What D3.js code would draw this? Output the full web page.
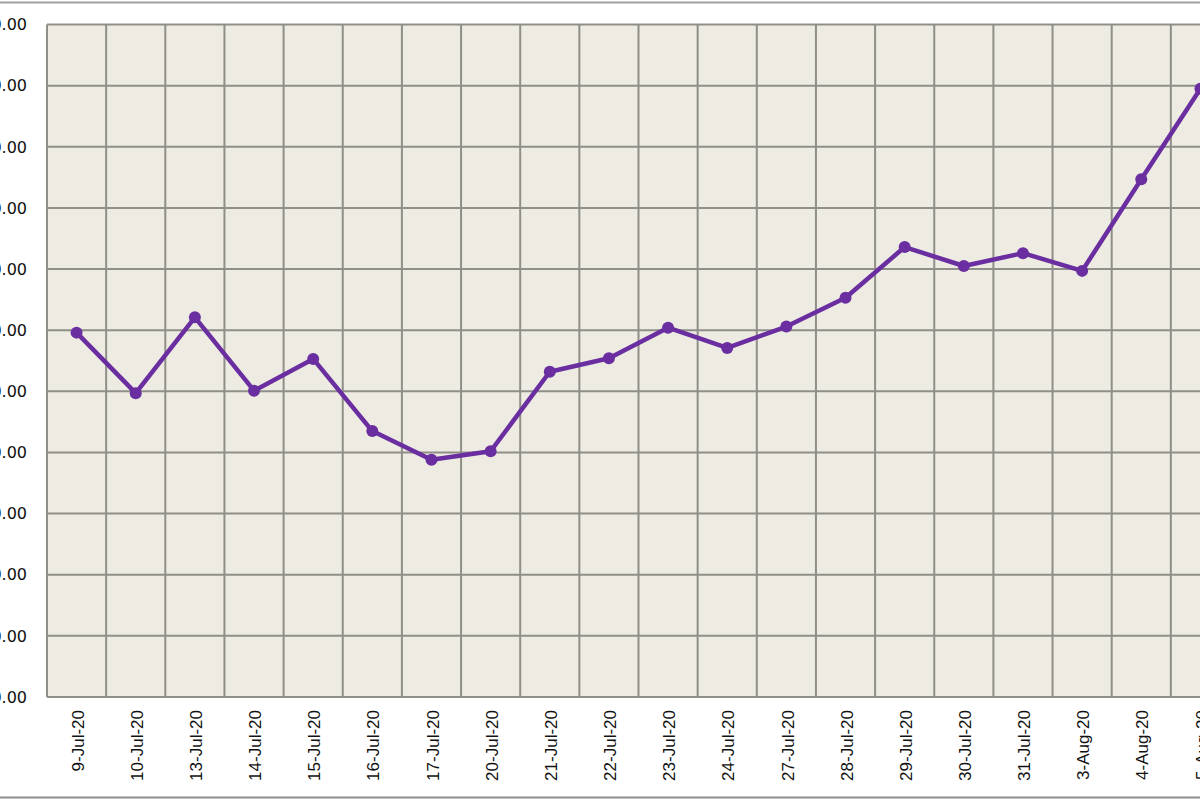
<!DOCTYPE html>
<html>
<head>
<meta charset="utf-8">
<script src="https://cdn.jsdelivr.net/npm/d3@7"></script>
<style>
  html, body { margin: 0; padding: 0; background: #fff; overflow: hidden; }
  svg { display: block; }
</style>
</head>
<body>
<svg id="chart"></svg>
<script>
const dates = ["9-Jul-20", "10-Jul-20", "13-Jul-20", "14-Jul-20", "15-Jul-20", "16-Jul-20",
               "17-Jul-20", "20-Jul-20", "21-Jul-20", "22-Jul-20", "23-Jul-20", "24-Jul-20",
               "27-Jul-20", "28-Jul-20", "29-Jul-20", "30-Jul-20", "31-Jul-20", "3-Aug-20",
               "4-Aug-20", "5-Aug-20"];
const values = [159.6, 149.7, 162.1, 150.1, 155.3, 143.5, 138.8, 140.2, 153.2, 155.4,
                160.4, 157.1, 160.6, 165.3, 173.6, 170.5, 172.6, 169.7, 184.7, 199.5];
const yTicks = [100, 110, 120, 130, 140, 150, 160, 170, 180, 190, 200, 210];

const W = 1200, H = 800;
// plot area runs past the right edge, as in the cropped original
const margin = { top: 24.5, left: 47, bottom: 697, right: 1230 };

const svg = d3.select("#chart").attr("width", W).attr("height", H);

// outer chart frame (only top and bottom edges visible)
svg.append("line").attr("x1", 0).attr("x2", W).attr("y1", 2.5).attr("y2", 2.5)
   .attr("stroke", "#a0a0a0").attr("stroke-width", 2);
svg.append("line").attr("x1", 0).attr("x2", W).attr("y1", 797.5).attr("y2", 797.5)
   .attr("stroke", "#8c8c8c").attr("stroke-width", 2);

const x = d3.scaleBand().domain(dates).range([margin.left, margin.right]);
const y = d3.scaleLinear().domain([100, 210]).range([margin.bottom, margin.top]);

// plot background
svg.append("rect")
   .attr("x", margin.left).attr("y", margin.top)
   .attr("width", margin.right - margin.left)
   .attr("height", margin.bottom - margin.top)
   .attr("fill", "#edebe2");

const grid = svg.append("g").attr("stroke", "#8f8e88").attr("stroke-width", 2);

// horizontal gridlines
grid.selectAll(".hgrid")
    .data(yTicks)
    .join("line")
    .attr("class", "hgrid")
    .attr("x1", margin.left).attr("x2", margin.right)
    .attr("y1", d => y(d)).attr("y2", d => y(d));

// vertical gridlines on category boundaries
grid.selectAll(".vgrid")
    .data(dates.concat([null]))
    .join("line")
    .attr("class", "vgrid")
    .attr("x1", (d, i) => margin.left + i * x.step())
    .attr("x2", (d, i) => margin.left + i * x.step())
    .attr("y1", margin.top).attr("y2", margin.bottom);

// y-axis labels (left part cut off by the crop)
svg.append("g")
   .selectAll("text")
   .data(yTicks)
   .join("text")
   .attr("x", 27)
   .attr("y", d => y(d))
   .attr("dy", "0.36em")
   .attr("text-anchor", "end")
   .attr("font-family", "'DejaVu Sans', Verdana, sans-serif")
   .attr("font-size", "16px")
   .attr("fill", "#111")
   .text(d => d3.format(".2f")(d));

// x-axis labels, rotated
svg.append("g")
   .selectAll("text")
   .data(dates)
   .join("text")
   .attr("transform", d => `translate(${x(d) + x.bandwidth() / 2 + 1}, 710) rotate(-90)`)
   .attr("dy", "0.36em")
   .attr("text-anchor", "end")
   .attr("font-family", "'Liberation Sans', Arial, sans-serif")
   .attr("font-size", "17px")
   .attr("fill", "#111")
   .text(d => d);

const line = d3.line()
    .x((d, i) => x(dates[i]) + x.bandwidth() / 2)
    .y(d => y(d));

svg.append("path")
   .datum(values)
   .attr("d", line)
   .attr("fill", "none")
   .attr("stroke", "#6a2ea0")
   .attr("stroke-width", 4.5)
   .attr("stroke-linejoin", "round");

svg.append("g")
   .selectAll("circle")
   .data(values)
   .join("circle")
   .attr("cx", (d, i) => x(dates[i]) + x.bandwidth() / 2)
   .attr("cy", d => y(d))
   .attr("r", 6)
   .attr("fill", "#6a2ea0");
</script>
</body>
</html>
